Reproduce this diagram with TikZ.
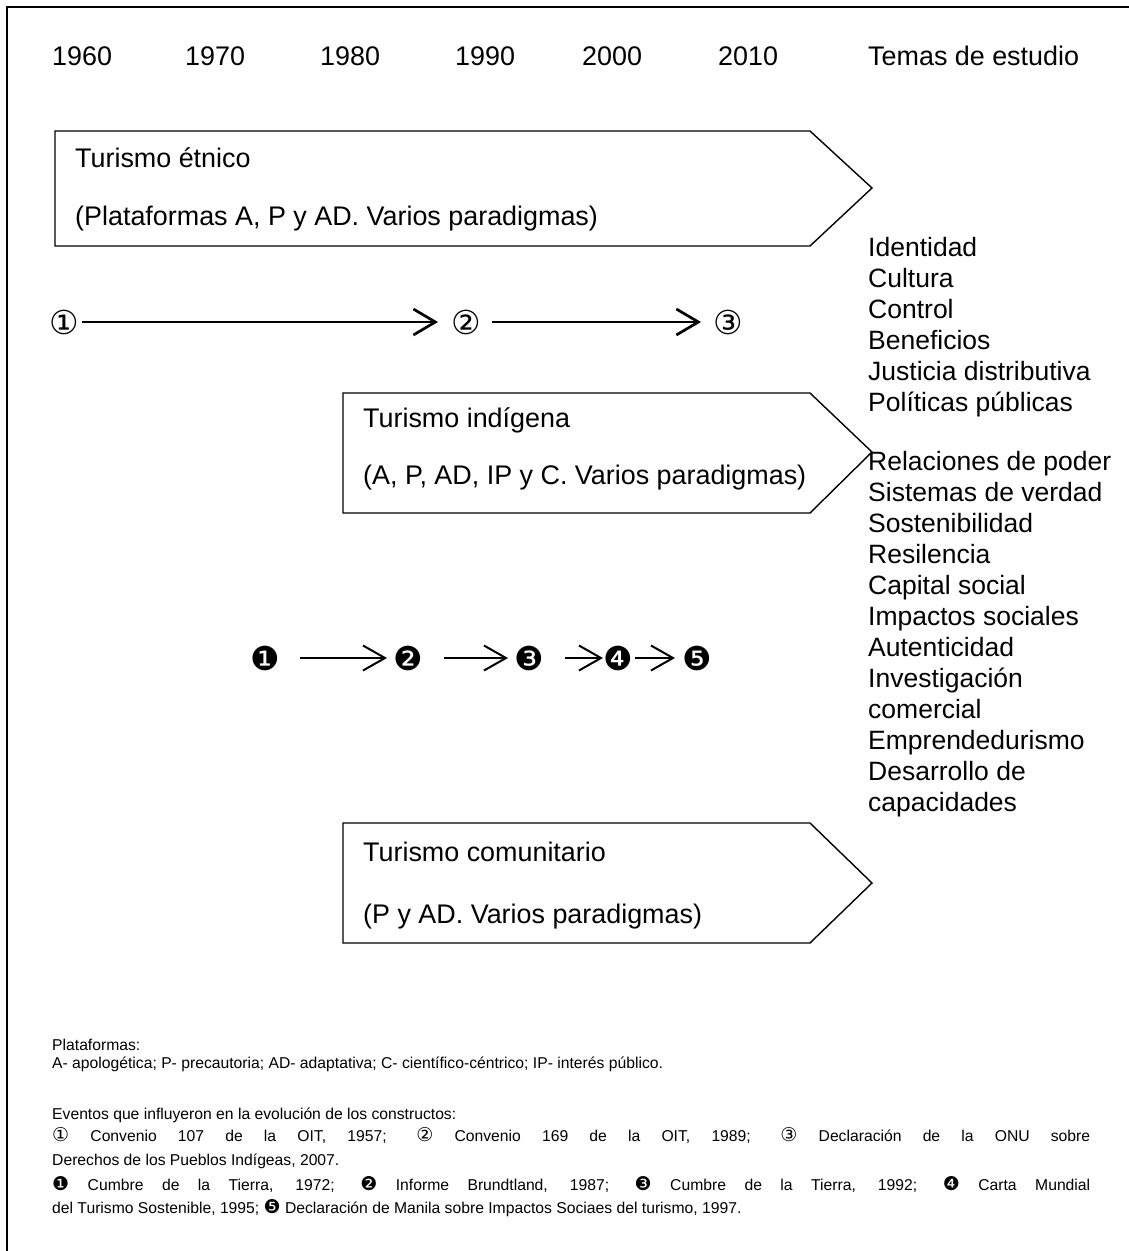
\documentclass[tikz,border=0pt]{standalone}
\usepackage{fontspec}
\setmainfont{Liberation Sans}
\newfontfamily\symfont{DejaVu Sans}
\usetikzlibrary{arrows.meta}

% circled digits inside the notes, a little larger than the running text
\newcommand{\notedigit}[1]{{\symfont\fontsize{19}{20}\selectfont #1}}

\begin{document}
\begin{tikzpicture}[x=1pt,y=-1pt,
  lbl/.style={inner sep=0pt, anchor=base west, font=\fontsize{26.9}{31}\selectfont},
  topic/.style={inner sep=0pt, anchor=base west, font=\fontsize{26.5}{31}\selectfont},
  note/.style={inner sep=0pt, anchor=base west, font=\fontsize{15.7}{20}\selectfont},
  era/.style={draw, line width=1.4pt, line join=miter},
  ring/.style={inner sep=0pt, minimum width=22pt, minimum height=22pt, font=\symfont\fontsize{33}{33}\selectfont},
  blob/.style={inner sep=0pt, minimum width=20pt, minimum height=20pt, font=\symfont\fontsize{33}{33}\selectfont},
  arrA/.style={line width=2.7pt, -{Straight Barb[length=22pt,width=26pt]}},
  arrB/.style={line width=2pt, -{Straight Barb[length=22pt,width=25pt]}},
]
\useasboundingbox (0,0) rectangle (1129,1251);

% frame
\draw[line width=2pt] (1129,7) -- (7,7) -- (7,1251);

% time axis
\node[lbl] (y60) at (52,65) {1960};
\node[lbl] (y70) at (185,65) {1970};
\node[lbl] (y80) at (320,65) {1980};
\node[lbl] (y90) at (455,65) {1990};
\node[lbl] (y00) at (582,65) {2000};
\node[lbl] (y10) at (718,65) {2010};
\node[lbl] (temas) at (868,65) {Temas de estudio};

% ethnic tourism
\draw[era] (55,131) -- (810,131) -- (872,188) -- (810,246) -- (55,246) -- cycle;
\node[lbl] (etn1) at (75,167) {Turismo étnico};
\node[lbl] (etn2) at (75,225) {(Plataformas A, P y AD. Varios paradigmas)};

% ILO / UN milestones
\node[ring] (c1) at (64,322) {①};
\node[ring] (c2) at (466,322) {②};
\node[ring] (c3) at (728,322) {③};
\draw[arrA, shorten <=3pt, shorten >=13pt] (c1) -- (c2);
\draw[arrA, shorten <=11pt, shorten >=12pt] (c2) -- (c3);

% indigenous tourism
\draw[era] (343,393) -- (810,393) -- (872,452) -- (810,513) -- (343,513) -- cycle;
\node[lbl] (ind1) at (363,427) {Turismo indígena};
\node[lbl] (ind2) at (363,484) {(A, P, AD, IP y C. Varios paradigmas)};

% sustainability milestones
\node[blob] (d1) at (265,658) {❶};
\node[blob] (d2) at (408,658) {❷};
\node[blob] (d3) at (529,658) {❸};
\node[blob] (d4) at (618,658) {❹};
\node[blob] (d5) at (697,658) {❺};
\draw[arrB, shorten <=20pt, shorten >=6pt] (d1) -- (d2);
\draw[arrB, shorten <=21pt, shorten >=6pt] (d2) -- (d3);
\draw[arrB, shorten <=21pt, shorten >=0pt] (d3) -- (d4);
\draw[arrB, shorten <=2pt, shorten >=7pt] (d4) -- (d5);

% community tourism
\draw[era] (343,823) -- (810,823) -- (872,883) -- (810,943) -- (343,943) -- cycle;
\node[lbl] (com1) at (363,861) {Turismo comunitario};
\node[lbl] (com2) at (363,923) {(P y AD. Varios paradigmas)};

% study topics
\foreach \t [count=\i from 0] in {Identidad, Cultura, Control, Beneficios,
    Justicia distributiva, Políticas públicas}
  \node[topic] (ta\i) at (868,256+31*\i) {\t};
\foreach \t [count=\i from 0] in {Relaciones de poder, Sistemas de verdad,
    Sostenibilidad, Resilencia, Capital social, Impactos sociales, Autenticidad,
    Investigación, comercial, Emprendedurismo, Desarrollo de, capacidades}
  \node[topic] (tb\i) at (868,470+31*\i) {\t};

% notes
\node[note] (n1) at (52,1050) {Plataformas:};
\node[note] (n2) at (52,1068) {A- apologética; P- precautoria; AD- adaptativa; C- científico-céntrico; IP- interés público.};
\node[note] (n3) at (52,1119) {Eventos que influyeron en la evolución de los constructos:};
\node[note] (n4) at (52,1141) {\makebox[1038pt][s]{\notedigit{①} Convenio 107 de la OIT, 1957; \notedigit{②} Convenio 169 de la OIT, 1989; \notedigit{③} Declaración de la ONU sobre}};
\node[note] (n5) at (52,1165) {Derechos de los Pueblos Indígeas, 2007.};
\node[note] (n6) at (52,1190) {\makebox[1038pt][s]{\notedigit{❶} Cumbre de la Tierra, 1972; \notedigit{❷} Informe Brundtland, 1987; \notedigit{❸} Cumbre de la Tierra, 1992; \notedigit{❹} Carta Mundial}};
\node[note] (n7) at (52,1213) {del Turismo Sostenible, 1995; \notedigit{❺} Declaración de Manila sobre Impactos Sociaes del turismo, 1997.};
\end{tikzpicture}
\end{document}
